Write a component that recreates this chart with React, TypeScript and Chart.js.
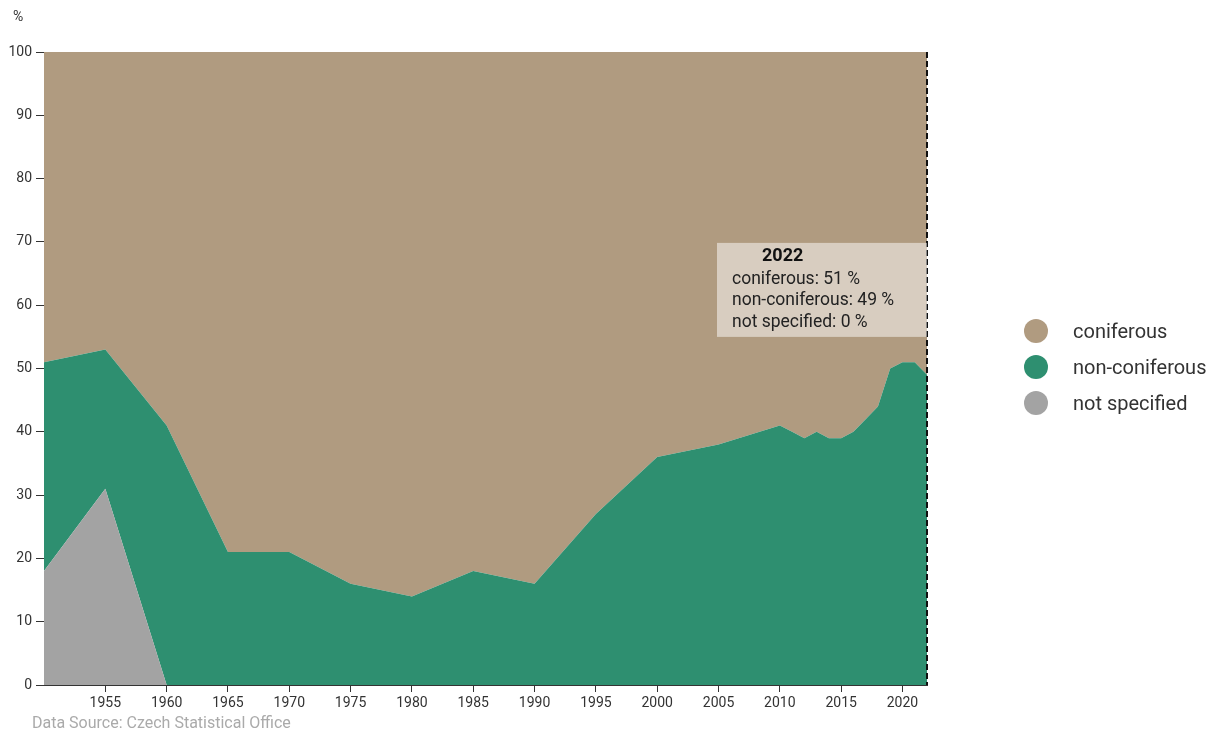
import React, { useEffect, useRef } from "react";
import { Chart, registerables } from "chart.js";

Chart.register(...registerables);

const years = [1950, 1955, 1960, 1965, 1970, 1975, 1980, 1985, 1990, 1995, 2000, 2005, 2010, 2011, 2012, 2013, 2014, 2015, 2016, 2017, 2018, 2019, 2020, 2021, 2022];
const notSpecified = [18, 31, 0, 0, 0, 0, 0, 0, 0, 0, 0, 0, 0, 0, 0, 0, 0, 0, 0, 0, 0, 0, 0, 0, 0];
const nonConiferous = [33, 22, 41, 21, 21, 16, 14, 18, 16, 27, 36, 38, 41, 40, 39, 40, 39, 39, 40, 42, 44, 50, 51, 51, 49];
const coniferous = [49, 47, 59, 79, 79, 84, 86, 82, 84, 73, 64, 62, 59, 60, 61, 60, 61, 61, 60, 58, 56, 50, 49, 49, 51];

const seriesNames = ["coniferous", "non-coniferous", "not specified"];
const seriesColors = ["#b09b80", "#2e8f70", "#a3a3a3"];
const yTicks = [0, 10, 20, 30, 40, 50, 60, 70, 80, 90, 100];
const xTickYears = [1955, 1960, 1965, 1970, 1975, 1980, 1985, 1990, 1995, 2000, 2005, 2010, 2015, 2020];
const tooltipYear = 2022;
const unit = "%";
const sourceText = "Data Source: Czech Statistical Office";

const FONT = "Roboto, 'Noto Sans', sans-serif";

const toPoints = (vals: number[]) => vals.map((v, i) => ({ x: years[i], y: v }));

const tooltipPlugin = {
  id: "fixedTooltip",
  afterDraw(chart: any) {
    const { ctx, chartArea, scales } = chart;
    const idx = years.indexOf(tooltipYear);
    const x = scales.x.getPixelForValue(tooltipYear);
    ctx.save();
    // dashed hover line
    ctx.beginPath();
    ctx.setLineDash([6, 3]);
    ctx.lineWidth = 2;
    ctx.strokeStyle = "#111";
    ctx.moveTo(x, chartArea.top);
    ctx.lineTo(x, chartArea.bottom);
    ctx.stroke();
    ctx.setLineDash([]);
    // box
    const w = 210;
    const h = 94;
    const top = scales.y.getPixelForValue(70) + 1;
    const left = x - w;
    ctx.fillStyle = "rgba(255,255,255,0.5)";
    ctx.fillRect(left, top, w, h);
    ctx.textBaseline = "middle";
    ctx.textAlign = "left";
    ctx.fillStyle = "#111";
    ctx.font = `bold 18px ${FONT}`;
    ctx.fillText(String(tooltipYear), left + 45, top + 14);
    ctx.font = `17.5px ${FONT}`;
    ctx.fillStyle = "#222";
    const vals = [coniferous[idx], nonConiferous[idx], notSpecified[idx]];
    const offs = [37, 58, 80];
    seriesNames.forEach((n, i) => {
      ctx.fillText(`${n}: ${vals[i]} ${unit}`, left + 15, top + offs[i]);
    });
    ctx.restore();
  },
};

export default function App() {
  const canvasRef = useRef<HTMLCanvasElement | null>(null);

  useEffect(() => {
    if (!canvasRef.current) return;
    const chart = new Chart(canvasRef.current, {
      type: "line",
      data: {
        datasets: [
          {
            label: seriesNames[2],
            data: toPoints(notSpecified),
            backgroundColor: seriesColors[2],
            borderWidth: 0,
            pointRadius: 0,
            fill: "origin",
          },
          {
            label: seriesNames[1],
            data: toPoints(nonConiferous),
            backgroundColor: seriesColors[1],
            borderWidth: 0,
            pointRadius: 0,
            fill: "-1",
          },
          {
            label: seriesNames[0],
            data: toPoints(coniferous),
            backgroundColor: seriesColors[0],
            borderWidth: 0,
            pointRadius: 0,
            fill: "-1",
          },
        ],
      },
      options: {
        animation: false,
        responsive: true,
        maintainAspectRatio: false,
        layout: { padding: { left: 0, top: 52, right: 1209 - 927, bottom: 17 } },
        plugins: {
          legend: { display: false },
          tooltip: { enabled: false },
        },
        elements: { line: { tension: 0 } },
        scales: {
          x: {
            type: "linear",
            min: 1950,
            max: 2022,
            afterBuildTicks: (scale: any) => {
              scale.ticks = xTickYears.map((v) => ({ value: v }));
            },
            afterFit: (scale: any) => {
              scale.height = 30;
            },
            ticks: {
              autoSkip: false,
              maxRotation: 0,
              padding: 3,
              color: "#333",
              font: { family: FONT, size: 14 },
              callback: (v: any) => String(v),
            },
            grid: { display: true, drawOnChartArea: false, drawTicks: true, tickLength: 7, color: "#333" },
            border: { display: true, color: "#333", width: 1 },
          },
          y: {
            stacked: true,
            min: 0,
            max: 100,
            afterBuildTicks: (scale: any) => {
              scale.ticks = yTicks.map((v) => ({ value: v }));
            },
            afterFit: (scale: any) => {
              scale.width = 44;
            },
            ticks: {
              padding: 4,
              color: "#333",
              font: { family: FONT, size: 14 },
              callback: (v: any) => String(v),
            },
            grid: { display: true, drawOnChartArea: false, drawTicks: true, tickLength: 8, color: "#333" },
            border: { display: false },
          },
        },
      },
      plugins: [tooltipPlugin],
    } as any);
    return () => chart.destroy();
  }, []);

  return (
    <div style={{ position: "absolute", left: 0, top: 0, width: 1209, height: 732, background: "#fff", fontFamily: FONT }}>
      <canvas ref={canvasRef} style={{ position: "absolute", left: 0, top: 0 }} />
      <div style={{ position: "absolute", left: 13, top: 8, fontSize: 14, color: "#333" }}>{unit}</div>
      <div style={{ position: "absolute", left: 32, top: 713, fontSize: 16, color: "#aaa" }}>{sourceText}</div>
      <div style={{ position: "absolute", left: 1024, top: 313 }}>
        {seriesNames.map((n, i) => (
          <div key={n} style={{ display: "flex", alignItems: "center", height: 36 }}>
            <span style={{ display: "inline-block", width: 24, height: 24, borderRadius: 12, background: seriesColors[i], marginRight: 25 }} />
            <span style={{ fontSize: 20, color: "#333" }}>{n}</span>
          </div>
        ))}
      </div>
    </div>
  );
}
